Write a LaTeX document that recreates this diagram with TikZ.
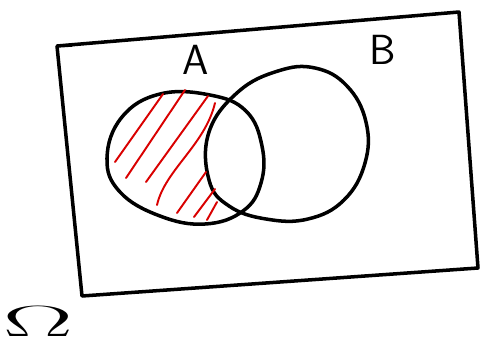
\documentclass[tikz,border=0pt]{standalone}
\usepackage{tikz}
\usetikzlibrary{positioning, calc}

\tikzset{
    pen/.style={line width=2pt, line cap=round, line join=round},
    hatch/.style={red!85!black, line width=1.1pt, line cap=round},
    setlabel/.style={font=\fontsize{24}{28}\selectfont\sffamily}
}

\begin{document}
\begin{tikzpicture}[x=0.02cm, y=-0.02cm]
    \useasboundingbox (0,0) rectangle (481,345);

    % 全集
    \draw[pen] (72,45) -- (57,46) -- (459,12) -- (478,268) -- (82,296) -- (57,46);

    % 集合 A
    \draw[pen] plot[smooth cycle, tension=0.7] coordinates {
        (107,158) (122,117) (160,94) (210,95) (246,111) (262,146)
        (261,183) (243,211) (205,224) (160,216) (120,192)};

    % 集合 B
    \draw[pen] plot[smooth cycle, tension=0.7] coordinates {
        (209,132) (238,92) (278,71) (315,68) (347,86) (366,122)
        (365,163) (344,200) (308,219) (266,219) (229,206) (209,180)};

    % 阴影 A - B
    \foreach \xa/\ya/\xb/\yb in {115/162/163/94, 126/178/185/90, 146/182/208/96,
        177/213/206/172, 194/217/215/189, 207/220/217/202} {
        \draw[hatch] (\xa,\ya) -- (\xb,\yb);
    }
    \draw[hatch] (157,205) .. controls (165,170) and (205,145) .. (215,103);

    % 标签
    \node[setlabel] (labA) at (196,60) {A};
    \node[setlabel] (labB) at (383,50) {B};
    \node[font=\fontsize{28}{32}\selectfont, xscale=2.4] (omega) at (38,322) {$\Omega$};
\end{tikzpicture}
\end{document}
